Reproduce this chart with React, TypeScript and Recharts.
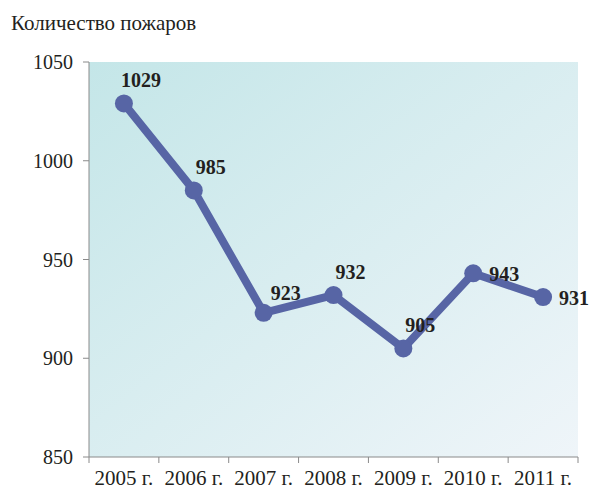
import { CartesianGrid, LabelList, Line, LineChart, XAxis, YAxis } from "recharts";

const years = ["2005 г.", "2006 г.", "2007 г.", "2008 г.", "2009 г.", "2010 г.", "2011 г."];
const fires = [1029, 985, 923, 932, 905, 943, 931];
const yTicks = [850, 900, 950, 1000, 1050];

// where each value label sits relative to its point
const labelSpots = ["top", "top", "topRight", "top", "top", "right", "right"];

const data = years.map((year, i) => ({ year, fires: fires[i] }));

const W = 593;
const H = 491;
const LEFT = 89;
const RIGHT = 15;
const BAND = (W - LEFT - RIGHT) / years.length;
const FONT = "'Liberation Serif', 'Times New Roman', serif";

function YearTick(props: any) {
  const { x, y, payload, index } = props;
  const left = x - BAND / 2;
  return (
    <g>
      <line x1={left} y1={y} x2={left} y2={y + 6} stroke="#8a8a8a" />
      {index === years.length - 1 ? (
        <line x1={x + BAND / 2} y1={y} x2={x + BAND / 2} y2={y + 6} stroke="#8a8a8a" />
      ) : null}
      <text x={x} y={y + 28} textAnchor="middle" fontSize={21} fontFamily={FONT} fill="#231f20">
        {payload.value}
      </text>
    </g>
  );
}

function ValueLabel(props: any) {
  const { x, y, value, index } = props;
  const spot = labelSpots[index];
  let lx = x + 17;
  let ly = y - 16;
  let anchor: "middle" | "start" = "middle";
  if (spot === "topRight") {
    lx = x + 22;
    ly = y - 13;
  } else if (spot === "right") {
    lx = x + 16;
    ly = y + 8;
    anchor = "start";
  }
  return (
    <text x={lx} y={ly} textAnchor={anchor} fontSize={20} fontWeight="bold" fontFamily={FONT} fill="#231f20">
      {value}
    </text>
  );
}

export default function App() {
  return (
    <div style={{ position: "absolute", left: 0, top: 0, width: W, height: H, background: "#fff" }}>
      <div
        style={{
          position: "absolute",
          left: 11,
          top: 11,
          fontFamily: FONT,
          fontSize: 21,
          lineHeight: "24px",
          color: "#231f20",
          whiteSpace: "nowrap",
        }}
      >
        Количество пожаров
      </div>
      <div
        style={{
          position: "absolute",
          left: 83,
          top: 40,
          height: 6,
          overflow: "hidden",
          fontFamily: FONT,
          fontSize: 18,
          lineHeight: "20px",
          color: "#231f20",
        }}
      >
        тыс.
      </div>
      <LineChart width={W} height={H} data={data} margin={{ top: 62, right: RIGHT, bottom: 0, left: 0 }}>
        <defs>
          <linearGradient id="plotBg" x1="0" y1="0" x2="1" y2="1">
            <stop offset="0%" stopColor="#c4e6e8" />
            <stop offset="100%" stopColor="#eff5f9" />
          </linearGradient>
        </defs>
        <CartesianGrid horizontal={false} vertical={false} fill="url(#plotBg)" fillOpacity={1} />
        <XAxis
          dataKey="year"
          height={34}
          padding={{ left: BAND / 2, right: BAND / 2 }}
          tickSize={0}
          tickMargin={0}
          tickLine={false}
          axisLine={{ stroke: "#8a8a8a" }}
          tick={<YearTick />}
          interval={0}
        />
        <YAxis
          width={LEFT}
          domain={[850, 1050]}
          ticks={yTicks}
          tickSize={6}
          tickMargin={10}
          tickLine={{ stroke: "#8a8a8a" }}
          axisLine={{ stroke: "#8a8a8a" }}
          tick={{ fill: "#231f20", fontSize: 20, fontFamily: FONT }}
        />
        <Line
          dataKey="fires"
          stroke="#5765a5"
          strokeWidth={8}
          dot={{ r: 9, fill: "#5765a5", stroke: "#5765a5", strokeWidth: 0 }}
          activeDot={false}
          isAnimationActive={false}
        >
          <LabelList dataKey="fires" content={<ValueLabel />} />
        </Line>
      </LineChart>
    </div>
  );
}
